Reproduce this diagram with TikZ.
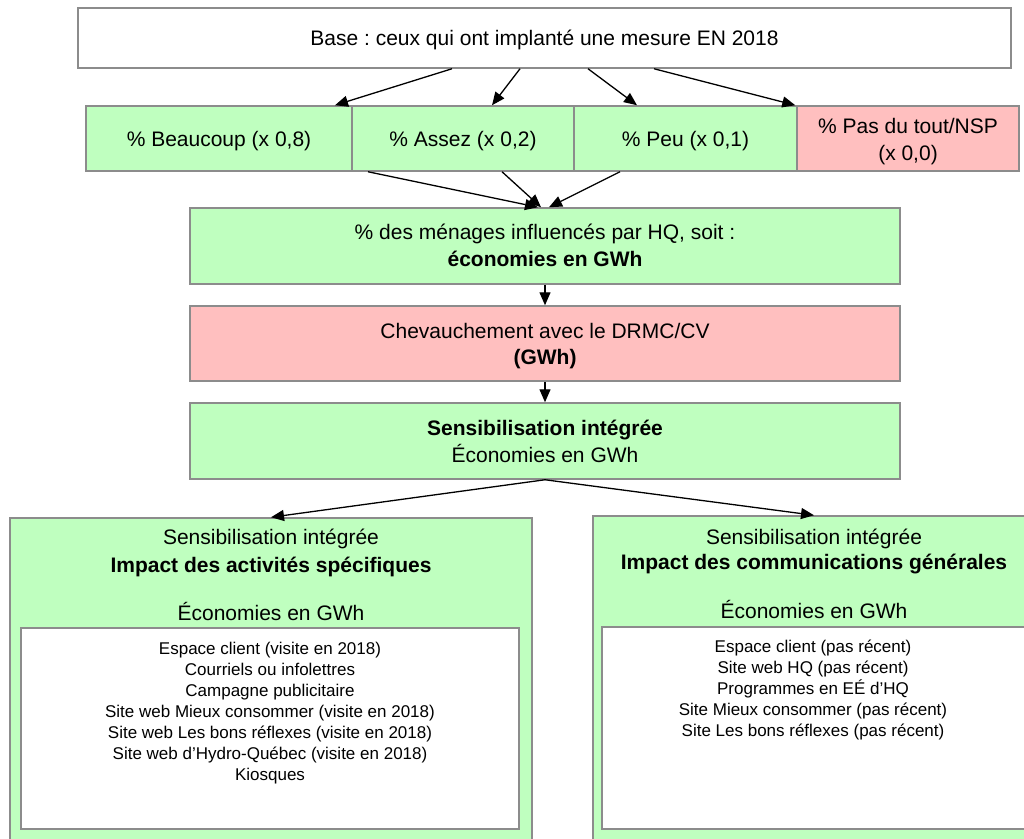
\documentclass[tikz,border=0pt]{standalone}
\usepackage{fontspec}
\setmainfont{Liberation Sans}
\usetikzlibrary{arrows.meta}
\definecolor{boxgreen}{HTML}{BFFFBF}
\definecolor{boxpink}{HTML}{FFBFBF}
\definecolor{boxline}{HTML}{8C8C8C}
\frenchspacing
\begin{document}
\begin{tikzpicture}[x=1pt,y=-1pt,
  box/.style={draw=boxline,line width=1.5pt,inner sep=0pt,anchor=center},
  wbox/.style={box,fill=white},
  gbox/.style={box,fill=boxgreen},
  pbox/.style={box,fill=boxpink},
  big/.style={font=\fontsize{21}{27}\selectfont},
  small/.style={font=\fontsize{17}{21}\selectfont},
  oneline/.style={big,text height=19.5pt,text depth=4.4pt},
  txt/.style={anchor=base,inner sep=0pt},
  arr/.style={-{Triangle[length=13pt,width=11pt]},line width=1.3pt}
]
\clip (0,0) rectangle (1024,838);
\fill[white] (0,0) rectangle (1024,838);

% top box
\node[wbox,oneline,minimum width=933pt,minimum height=60pt] (top) at (544.5,38)
  {Base : ceux qui ont implanté une mesure EN 2018};

% answer categories
\node[gbox,oneline,minimum width=266pt,minimum height=65pt] (b1) at (219,138.5) {\% Beaucoup (x 0,8)};
\node[gbox,oneline,minimum width=222pt,minimum height=65pt] (b2) at (463,138.5) {\% Assez (x 0,2)};
\node[gbox,oneline,minimum width=223pt,minimum height=65pt] (b3) at (685.5,138.5) {\% Peu (x 0,1)};
\node[pbox,minimum width=222pt,minimum height=65pt] (b4) at (908,138.5) {};
\node[txt,big] (b4a) at (908,133.5) {\% Pas du tout/NSP};
\node[txt,big] (b4b) at (908,160.5) {(x 0,0)};

% central chain
\node[gbox,minimum width=710pt,minimum height=76pt] (m1) at (545,246) {};
\node[txt,big] (m1a) at (545,239.5) {\% des ménages influencés par HQ, soit :};
\node[txt,big] (m1b) at (545,266.5) {\textbf{économies en GWh}};

\node[pbox,minimum width=710pt,minimum height=75pt] (m2) at (545,343.5) {};
\node[txt,big] (m2a) at (545,338.5) {Chevauchement avec le DRMC/CV};
\node[txt,big] (m2b) at (545,364.5) {\textbf{(GWh)}};

\node[gbox,minimum width=710pt,minimum height=76pt] (m3) at (545,441) {};
\node[txt,big] (m3a) at (545,435.5) {\textbf{Sensibilisation intégrée}};
\node[txt,big] (m3b) at (545,462.5) {Économies en GWh};

% specific activities
\node[gbox,minimum width=522pt,minimum height=332pt] (lbox) at (271,684) {};
\node[txt,big] (la) at (271,544.5) {Sensibilisation intégrée};
\node[txt,big] (lb) at (271,572.5) {\textbf{Impact des activités spécifiques}};
\node[txt,big] (lc) at (271,620.5) {Économies en GWh};
\node[wbox,minimum width=498pt,minimum height=201pt] (linner) at (270,728.5) {};
\foreach \t [count=\i from 0] in {Espace client (visite en 2018),
  Courriels ou infolettres,
  Campagne publicitaire,
  Site web Mieux consommer (visite en 2018),
  Site web Les bons réflexes (visite en 2018),
  Site web d’Hydro-Québec (visite en 2018),
  Kiosques}
  \node[txt,small] (l\i) at (270,654+21.15*\i) {\t};

% general communications
\node[gbox,minimum width=442pt,minimum height=334pt] (rbox) at (814,683) {};
\node[txt,big] (ra) at (814,544.5) {Sensibilisation intégrée};
\node[txt,big] (rb) at (814,569.5) {\textbf{Impact des communications générales}};
\node[txt,big] (rc) at (814,618.5) {Économies en GWh};
\node[wbox,minimum width=424pt,minimum height=202pt] (rinner) at (814,728) {};
\foreach \t [count=\i from 0] in {Espace client (pas récent),
  Site web HQ (pas récent),
  Programmes en EÉ d’HQ,
  Site Mieux consommer (pas récent),
  Site Les bons réflexes (pas récent)}
  \node[txt,small] (r\i) at (813,652+21.2*\i) {\t};

% connectors
\draw[arr] ([xshift=-92.5pt]top.south) -- ([xshift=116pt]b1.north);
\draw[arr] ([xshift=-24.5pt]top.south) -- ([xshift=29pt]b2.north);
\draw[arr] ([xshift=43.5pt]top.south) -- ([xshift=-48.5pt]b3.north);
\draw[arr] ([xshift=109.5pt]top.south) -- ([xshift=-1pt]b4.north west);

\draw[arr] ([xshift=149pt]b1.south) -- ([xshift=-7pt]m1.north);
\draw[arr] ([xshift=39pt]b2.south) -- ([xshift=-4pt]m1.north);
\draw[arr] ([xshift=-65.5pt]b3.south) -- ([xshift=4pt]m1.north);

\draw[arr] (m1.south) -- (m2.north);
\draw[arr] (m2.south) -- (m3.north);

\draw[arr] (m3.south) -- (lbox.north);
\draw[arr] (m3.south) -- (rbox.north);
\end{tikzpicture}
\end{document}
